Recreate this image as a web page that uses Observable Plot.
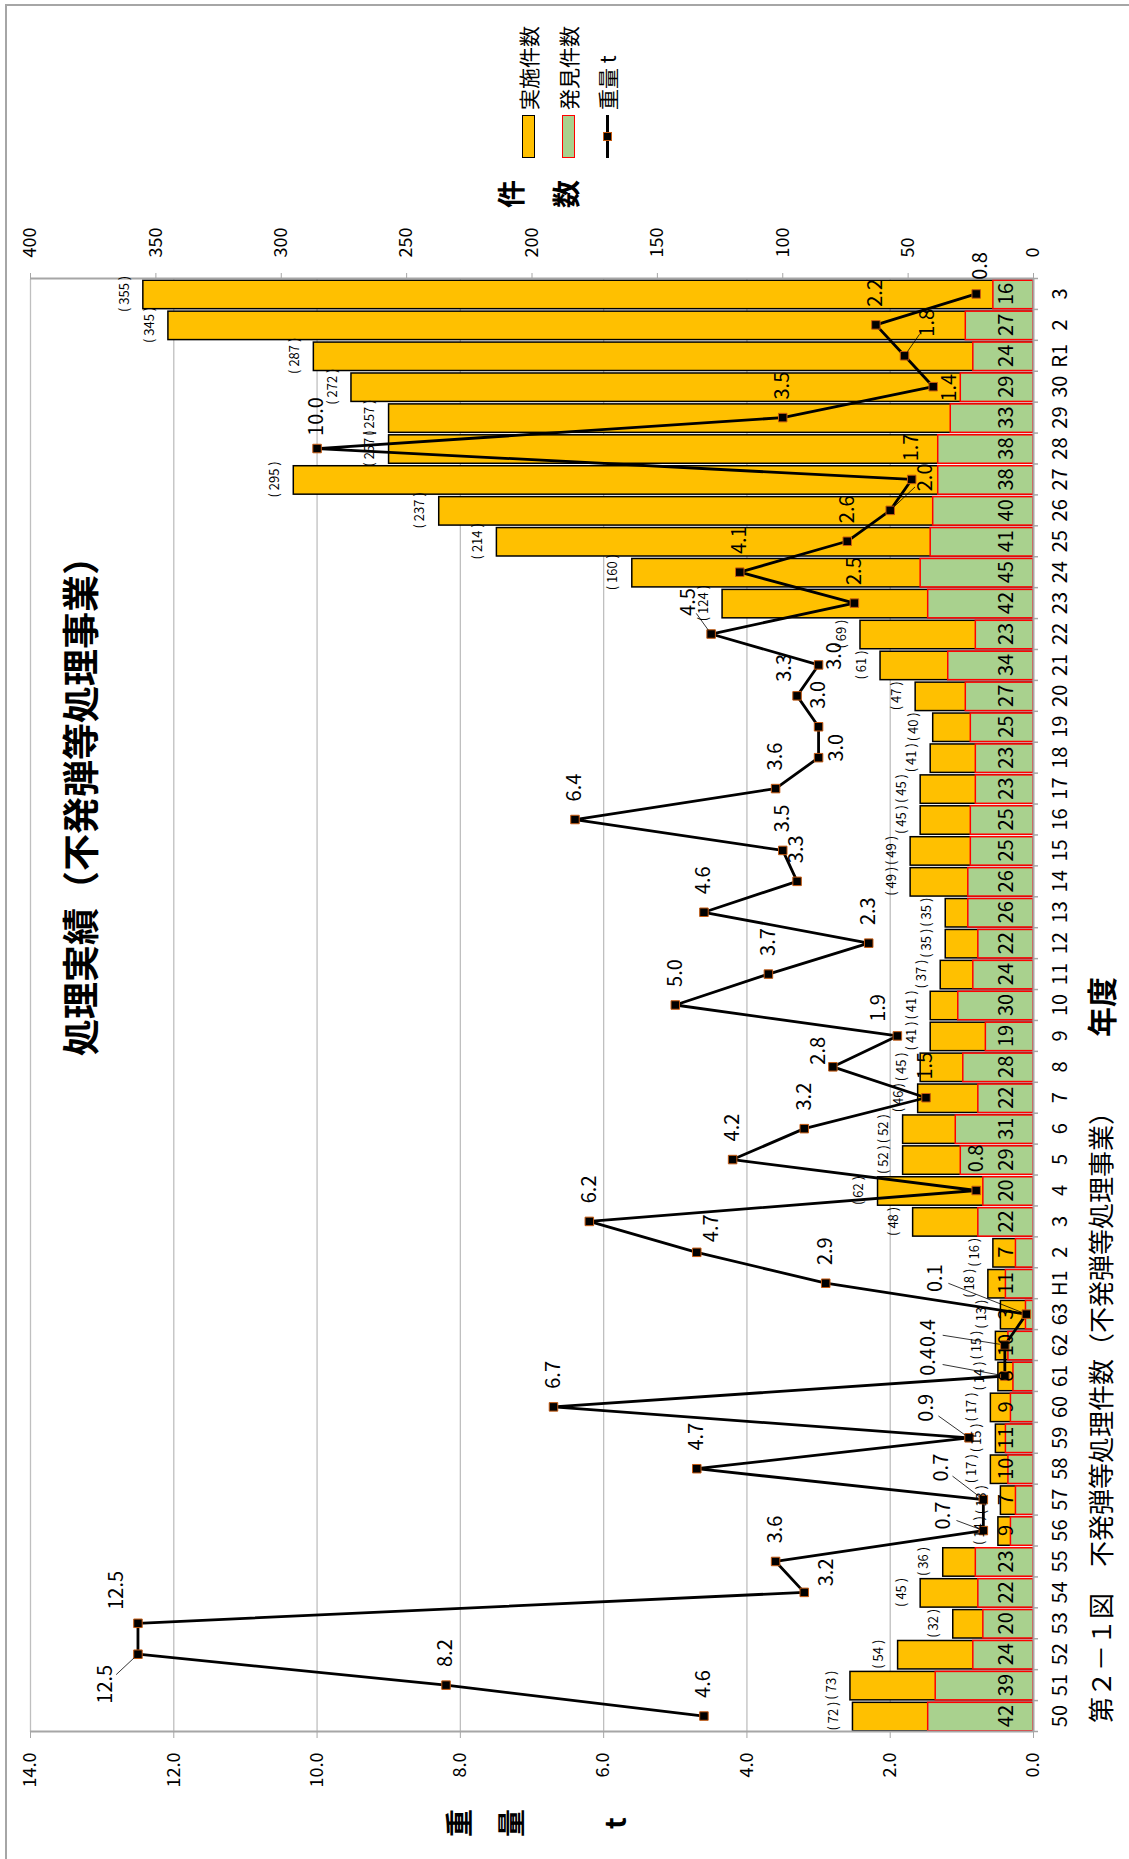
<!DOCTYPE html>
<html>
<head>
<meta charset="utf-8">
<script src="https://cdn.jsdelivr.net/npm/d3@7"></script>
<script src="https://cdn.jsdelivr.net/npm/@observablehq/plot@0.6"></script>
<style>
html, body { margin:0; padding:0; background:#fff; overflow:hidden; width:1129px; height:1859px; }
#land { position:absolute; left:0; top:0; width:1859px; height:1129px; transform-origin:0 0;
        transform: translate(0, 1859px) rotate(-90deg);
        font-family:"Noto Sans CJK JP","Noto Sans",sans-serif; background:#fff; color:#000; }
.t { position:absolute; white-space:nowrap; line-height:1; color:#000; }
.c { transform: translate(-50%, -50%); }
.b { font-weight:700; }
</style>
</head>
<body>
<div id="land">
  <div style="position:absolute;left:-4px;top:5px;width:1859px;height:1140px;border-top:2px solid #a6a6a6;border-right:2px solid #a6a6a6;box-sizing:border-box;"></div>
  <div id="chart" style="position:absolute;left:0;top:0;"></div>

  <div class="t c b" style="left:1062px;top:79px;font-size:37px;">処理実績（不発弾等処理事業）</div>
  <div class="t" style="left:136px;top:1100px;font-size:26px;transform:translate(0,-50%);">第２－１図　不発弾等処理件数（不発弾等処理事業）</div>
  <div class="t c b" style="left:852px;top:1100px;font-size:30px;">年度</div>

  <div class="t c b" style="left:36px;top:458px;font-size:28px;">重</div>
  <div class="t c b" style="left:36px;top:510px;font-size:28px;">量</div>
  <div class="t c b" style="left:36px;top:614px;font-size:28px;">t</div>

  <div class="t c b" style="left:1665px;top:510px;font-size:28px;">件</div>
  <div class="t c b" style="left:1665px;top:565px;font-size:28px;">数</div>

  <div style="position:absolute;left:1701px;top:522px;width:43px;height:13px;background:#FFC000;border:1.5px solid #000;box-sizing:border-box;"></div>
  <div style="position:absolute;left:1701px;top:562px;width:43px;height:13px;background:#A9D18E;border:1.5px solid #FF0000;box-sizing:border-box;"></div>
  <div style="position:absolute;left:1701px;top:606px;width:43px;height:2.6px;background:#000;"></div>
  <div style="position:absolute;left:1718px;top:603px;width:9px;height:9px;background:#000;border:1px solid #C55A11;box-sizing:border-box;"></div>
  <div class="t" style="left:1749px;top:528px;font-size:21px;transform:translate(0,-50%);">実施件数</div>
  <div class="t" style="left:1749px;top:568px;font-size:21px;transform:translate(0,-50%);">発見件数</div>
  <div class="t" style="left:1749px;top:607px;font-size:21px;transform:translate(0,-50%);">重量 t</div>
</div>
<script>
// ---- data ----
const yearLabels = ["50","51","52","53","54","55","56","57","58","59","60","61","62","63",
  "H1","2","3","4","5","6","7","8","9","10","11","12","13","14","15","16","17","18","19","20",
  "21","22","23","24","25","26","27","28","29","30","R1","2","3"];
const totalCounts = [72,73,54,32,45,36,14,13,17,15,17,14,15,13,
  18,16,48,62,52,52,46,45,41,41,37,35,35,49,49,45,45,41,40,47,
  61,69,124,160,214,237,295,257,257,272,287,345,355];
const foundCounts = [42,39,24,20,22,23,9,7,10,11,9,8,10,3,
  11,7,22,20,29,31,22,28,19,30,24,22,26,26,25,25,23,23,25,27,
  34,23,42,45,41,40,38,38,33,29,24,27,16];
const weightTons = [4.6,8.2,12.5,12.5,3.2,3.6,0.7,0.7,4.7,0.9,6.7,0.4,0.4,0.1,
  2.9,4.7,6.2,0.8,4.2,3.2,1.5,2.8,1.9,5.0,3.7,2.3,4.6,3.3,3.5,6.4,3.6,3.0,3.0,3.3,
  3.0,4.5,2.5,4.1,2.6,2.0,1.7,10.0,3.5,1.4,1.8,2.2,0.8];
const weightTicks = [0,2,4,6,8,10,12,14];
const countTicks = [0,50,100,150,200,250,300,350,400];

// ---- layout ----
const FONT = '"Noto Sans CJK JP","Noto Sans",sans-serif';
const W = 1859, H = 1129;
const M = {left:127, right:279, top:30, bottom:96};
const weightMax = 14, countMax = 400;
const k = weightMax / countMax;
const nCat = yearLabels.length;
const pxPerCat = (W - M.left - M.right) / nCat;
const pxPerTon = (H - M.top - M.bottom) / weightMax;

// label nudges (pixels, right/down) for weight labels, default to the right of the point
const defaultNudge = [32, 0];
const labelNudge = {46:[28,4],44:[33,23],43:[-1,16],39:[33,35],35:[32,-23],34:[9,16],33:[28,-12],
  31:[10,18],22:[28,-19],21:[16,-14],15:[24,15],13:[36,-91],12:[12,-76],11:[14,-76],
  9:[30,-42],7:[32,-42],6:[15,-40],4:[20,22],3:[33,-21],2:[-30,-32]};
const leaderIdx = new Set([44,39,35,13,12,11,9,7,6,2]);

const rows = yearLabels.map((label, i) => {
  const [dx, dy] = labelNudge[i] || defaultNudge;
  return {i, label, total: totalCounts[i], found: foundCounts[i], weight: weightTons[i],
          lx: i + dx / pxPerCat, ly: weightTons[i] - dy / pxPerTon};
});
const leaders = rows.filter(r => leaderIdx.has(r.i)).map(r => {
  const [dx, dy] = labelNudge[r.i];
  const L = Math.hypot(dx, dy), ux = -dx / L, uy = -dy / L;
  const sx = dx + ux * 14, sy = dy + uy * 14, ex = -ux * 5, ey = -uy * 5;
  return {x1: r.i + sx / pxPerCat, y1: r.weight - sy / pxPerTon,
          x2: r.i + ex / pxPerCat, y2: r.weight - ey / pxPerTon};
});

const half = 0.46;
const chart = Plot.plot({
  width: W, height: H,
  marginLeft: M.left, marginRight: M.right, marginTop: M.top, marginBottom: M.bottom,
  style: {fontFamily: FONT, background: "transparent", color: "#000", overflow: "visible"},
  x: {type: "linear", domain: [-0.5, nCat - 0.5]},
  y: {type: "linear", domain: [0, weightMax]},
  marks: [
    Plot.ruleY(weightTicks.filter(t => t > 0), {stroke: "#bfbfbf", strokeWidth: 1.3}),
    Plot.rectY(rows, {x1: d => d.i - half, x2: d => d.i + half, y1: 0, y2: d => d.total * k,
      fill: "#FFC000", stroke: "#000", strokeWidth: 1.5}),
    Plot.rectY(rows, {x1: d => d.i - half, x2: d => d.i + half, y1: 0, y2: d => d.found * k,
      fill: "#A9D18E", stroke: "#FF0000", strokeWidth: 1.5}),
    Plot.ruleX([-0.5, nCat - 0.5], {y1: 0, y2: weightMax, stroke: "#a6a6a6", strokeWidth: 2}),
    Plot.ruleY([0], {stroke: "#a6a6a6", strokeWidth: 2}),
    Plot.ruleX(d3.range(nCat + 1).map(i => i - 0.5), {y1: 0, y2: -5 / pxPerTon, stroke: "#a6a6a6", strokeWidth: 1.5}),
    Plot.axisY({anchor: "left", ticks: weightTicks, tickFormat: d3.format(".1f"), tickSize: 6, tickPadding: 15,
      fontSize: 18, stroke: "#a6a6a6", fill: "#000", label: null}),
    Plot.axisY({anchor: "right", ticks: countTicks.map(c => c * k), tickFormat: v => String(Math.round(v / k)),
      tickSize: 5, tickPadding: 16, fontSize: 18, stroke: "#a6a6a6", fill: "#000", label: null}),
    Plot.axisX({anchor: "bottom", ticks: d3.range(nCat), tickFormat: i => yearLabels[i], tickSize: 0,
      tickPadding: 19, fontSize: 20, fill: "#000", label: null}),
    Plot.line(rows, {x: "i", y: "weight", stroke: "#000", strokeWidth: 2.8}),
    Plot.dot(rows, {x: "i", y: "weight", symbol: "square", r: 4.8, fill: "#000", stroke: "#C55A11", strokeWidth: 1}),
    Plot.link(leaders, {x1: "x1", y1: "y1", x2: "x2", y2: "y2", stroke: "#000", strokeWidth: 0.8}),
    Plot.text(rows, {x: "i", y: d => d.total * k, text: d => `( ${d.total} )`, dy: -19, fontSize: 13, lineAnchor: "middle"}),
    Plot.text(rows, {x: "i", y: 0, text: d => String(d.found), dy: -27, fontSize: 20, lineAnchor: "middle"}),
    Plot.text(rows, {x: "lx", y: "ly", text: d => d.weight.toFixed(1), fontSize: 20, lineAnchor: "middle"})
  ]
});
document.getElementById("chart").appendChild(chart);
</script>
</body>
</html>
